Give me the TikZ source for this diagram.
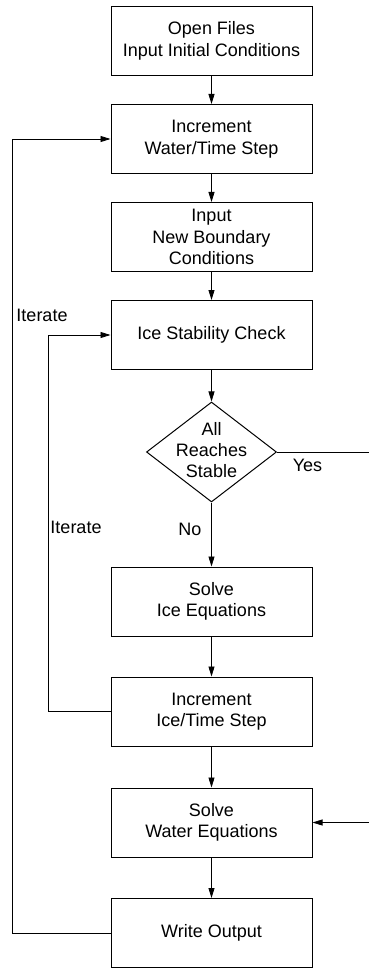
\documentclass[tikz,border=0pt]{standalone}
\usepackage{fontspec}
\setmainfont{Liberation Sans}
\usetikzlibrary{arrows.meta,shapes.geometric}
\begin{document}
\begin{tikzpicture}[x=1pt,y=-1pt,
  box/.style={draw,line width=1pt,minimum width=201pt,minimum height=69pt,align=center,inner sep=0pt,font=\fontsize{18}{21.5}\selectfont},
  dec/.style={draw,diamond,line width=1pt,minimum width=130pt,minimum height=100pt,inner sep=0pt},
  arr/.style={-{Triangle[length=10pt,width=6pt]},line width=0.8pt},
  lbl/.style={font=\fontsize{18}{21}\selectfont,inner sep=0pt,align=center}]
\useasboundingbox (0,0) rectangle (368,968);
\node[box] (b1) at (211.5,41) {Open Files\\Input Initial Conditions};
\node[box] (b2) at (211.5,139) {Increment\\Water/Time Step};
\node[box] (b3) at (211.5,237) {Input\\New Boundary\\Conditions};
\node[box] (b4) at (211.5,335) {Ice Stability Check};
\node[dec] (d) at (211.5,452) {};
\node[lbl] (dt) at (211.5,450) {All\\Reaches\\Stable};
\node[box] (b5) at (211.5,601.5) {Solve\\Ice Equations};
\node[box] (b6) at (211.5,711.5) {Increment\\Ice/Time Step};
\node[box] (b7) at (211.5,822.5) {Solve\\Water Equations};
\node[box] (b8) at (211.5,933) {Write Output};
\coordinate (yc) at (372,452);
\coordinate (oc) at (12,933);
\coordinate (ic) at (48,711.5);
\draw[arr] (b1) -- (b2);
\draw[arr] (b2) -- (b3);
\draw[arr] (b3) -- (b4);
\draw[arr] (b4) -- (d);
\draw[arr] (d) -- (b5);
\draw[arr] (b5) -- (b6);
\draw[arr] (b6) -- (b7);
\draw[arr] (b7) -- (b8);
\draw[arr] (b8.west) -- (oc) |- (b2.west);
\draw[arr] (b6.west) -- (ic) |- (b4.west);
\draw[arr] (d.east) -- (yc) |- (b7.east);
\node[lbl] (it1) at (42,315) {Iterate};
\node[lbl] (it2) at (76,527) {Iterate};
\node[lbl] (no) at (190,529) {No};
\node[lbl] (yes) at (307.5,465) {Yes};
\end{tikzpicture}
\end{document}
